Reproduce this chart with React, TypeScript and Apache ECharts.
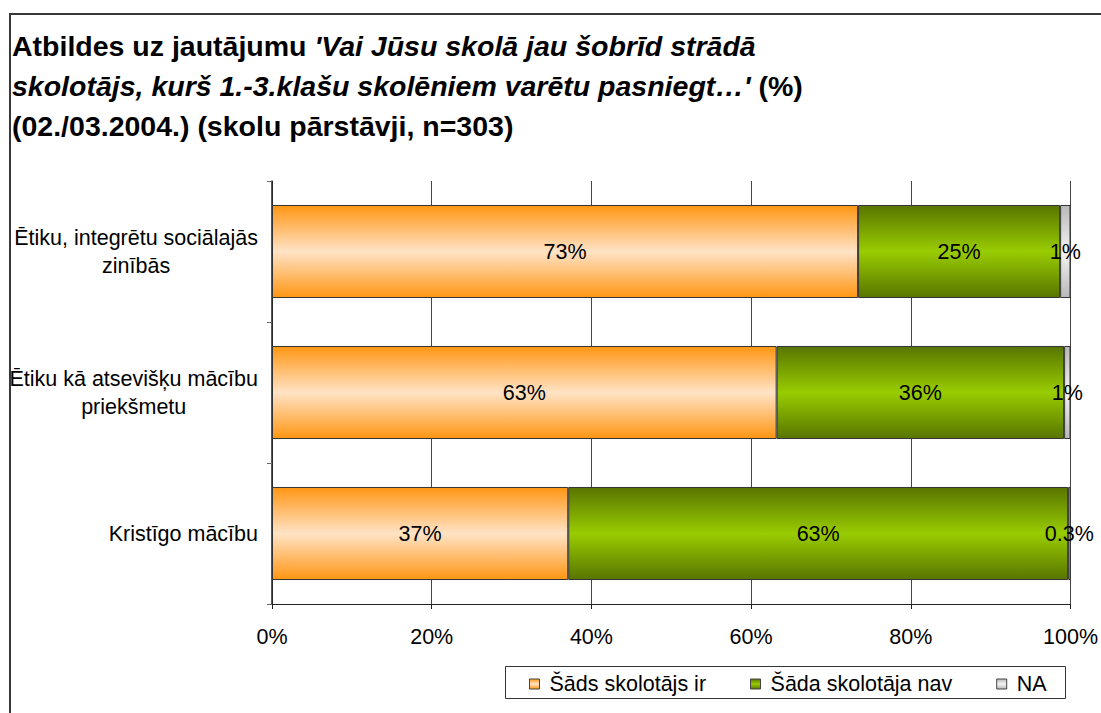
import React, { useEffect, useRef } from "react";
import * as echarts from "echarts";

const categories = [
  "Ētiku, integrētu sociālajās\nzinībās",
  "Ētiku kā atsevišķu mācību\npriekšmetu",
  "Kristīgo mācību",
];
const seriesNames = ["Šāds skolotājs ir", "Šāda skolotāja nav", "NA"];
const valuesIr = [73.4, 63.2, 37.1];
const valuesNav = [25.3, 36.0, 62.6];
const valuesNA = [1.3, 0.8, 0.3];
const xTicks = { min: 0, max: 100, interval: 20 };

const FONT = "'Liberation Sans', Arial, sans-serif";

function grad(edge: string, mid: string) {
  return new echarts.graphic.LinearGradient(0, 0, 0, 1, [
    { offset: 0, color: edge },
    { offset: 0.5, color: mid },
    { offset: 1, color: edge },
  ]);
}

function fmt(v: number) {
  return (v < 0.5 ? v.toFixed(1) : String(Math.round(v))) + "%";
}

export default function App() {
  const ref = useRef<HTMLDivElement>(null);
  useEffect(() => {
    if (!ref.current) return;
    const chart = echarts.init(ref.current, null, { renderer: "svg" });
    const labelCfg = {
      show: true,
      position: "inside",
      color: "#000",
      fontSize: 21.5,
      fontFamily: FONT,
      formatter: (p: any) => fmt(p.value),
    };
    const colors = [
      grad("#FF9613", "#FFE3C6"),
      grad("#587500", "#99CC00"),
      grad("#B8B8B8", "#F4F4F4"),
    ];
    const datas = [valuesIr, valuesNav, valuesNA];
    chart.setOption({
      animation: false,
      backgroundColor: "#fff",
      title: {
        left: 12,
        top: 26,
        padding: 0,
        text:
          "{b|Atbildes uz jautājumu }{i|'Vai Jūsu skolā jau šobrīd strādā}\n" +
          "{i|skolotājs, kurš 1.-3.klašu skolēniem varētu pasniegt…'}{b| (%)}\n" +
          "{b|(02./03.2004.) (skolu pārstāvji, n=303)}",
        textStyle: {
          fontFamily: FONT,
          fontSize: 28.5,
          lineHeight: 40,
          fontWeight: "bold",
          color: "#000",
          rich: {
            b: { fontFamily: FONT, fontSize: 28.5, lineHeight: 40, fontWeight: "bold", color: "#000" },
            i: {
              fontFamily: FONT,
              fontSize: 28.5,
              lineHeight: 40,
              fontWeight: "bold",
              fontStyle: "italic",
              color: "#000",
            },
          },
        },
      },
      graphic: [
        {
          type: "rect",
          shape: { x: 10, y: 14, width: 1200, height: 800 },
          style: { fill: "none", stroke: "#383838", lineWidth: 2 },
          silent: true,
        },
        {
          type: "rect",
          shape: { x: 505.5, y: 666.5, width: 560, height: 32 },
          style: { fill: "none", stroke: "#333", lineWidth: 1 },
          silent: true,
        },
      ],
      legend: {
        left: 529,
        top: 673,
        padding: 0,
        itemGap: 44,
        itemWidth: 10,
        itemHeight: 10,
        icon: "rect",
        itemStyle: { borderColor: "#444", borderWidth: 1 },
        textStyle: {
          fontFamily: FONT,
          fontSize: 21.5,
          color: "#000",
          padding: [0, 0, 0, 5],
        },
        data: seriesNames,
      },
      grid: { left: 272, right: 28, top: 181, bottom: 109, containLabel: false },
      xAxis: {
        type: "value",
        min: xTicks.min,
        max: xTicks.max,
        interval: xTicks.interval,
        axisLine: { show: true, lineStyle: { color: "#222", width: 1 } },
        axisTick: { show: true, length: 5, lineStyle: { color: "#222" } },
        splitLine: { show: true, lineStyle: { color: "#444", width: 1 } },
        axisLabel: {
          formatter: "{value}%",
          fontFamily: FONT,
          fontSize: 21.5,
          color: "#000",
          margin: 22,
        },
      },
      yAxis: {
        type: "category",
        inverse: true,
        data: categories,
        axisLine: { show: true, lineStyle: { color: "#222", width: 1.5 } },
        axisTick: { show: true, length: 5, lineStyle: { color: "#666" } },
        splitLine: { show: false },
        axisLabel: {
          margin: 14,
          align: "right",
          formatter: (v: string) =>
            v
              .split("\n")
              .map((s) => "{a|" + s + "}")
              .join("\n"),
          rich: {
            a: {
              fontFamily: FONT,
              fontSize: 21.5,
              lineHeight: 28,
              color: "#000",
              align: "center",
            },
          },
        },
      },
      series: seriesNames.map((name, i) => ({
        name,
        type: "bar",
        stack: "total",
        barCategoryGap: "34%",
        data: datas[i],
        itemStyle: { color: colors[i], borderColor: "#333", borderWidth: 1 },
        label: labelCfg,
        emphasis: { disabled: true },
      })),
    });
    return () => chart.dispose();
  }, []);
  return (
    <div
      ref={ref}
      style={{ position: "fixed", left: 0, top: 0, width: 1101, height: 713 }}
    />
  );
}
